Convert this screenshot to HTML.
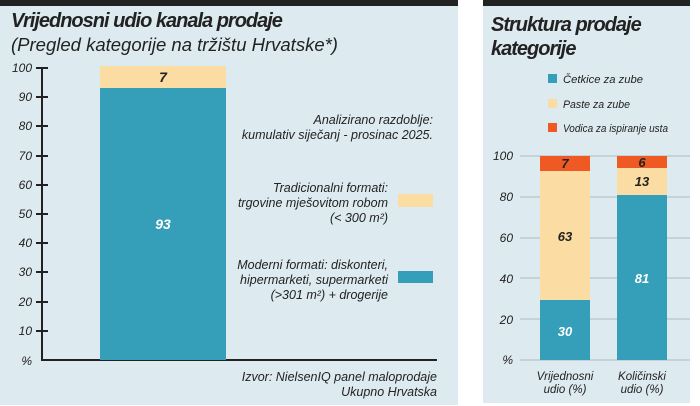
<!DOCTYPE html><html><head><style>
body{margin:0;width:700px;height:406px;background:#fff;position:relative;overflow:hidden;font-family:"Liberation Sans",sans-serif;font-style:italic;color:#222}
.a{position:absolute}
</style></head><body>
<div class="a" style="left:0;top:0;width:458px;height:405px;background:#ddeaef;border-top:6px solid #222;box-sizing:border-box"></div>
<div class="a" style="left:483px;top:0;width:207px;height:403px;background:#ddeaef;border-top:6px solid #222;box-sizing:border-box"></div>
<div class="a" style="left:11px;top:10px;font-size:20px;font-weight:bold;letter-spacing:-1px">Vrijednosni udio kanala prodaje</div>
<div class="a" style="left:11px;top:34px;font-size:18.5px;font-style:italic">(Pregled kategorije na tržištu Hrvatske*)</div>
<div class="a" style="left:491px;top:13px;font-size:20px;font-weight:bold;line-height:24px;letter-spacing:-1px">Struktura prodaje<br>kategorije</div>
<svg class="a" style="left:0;top:0" width="700" height="406" font-family="Liberation Sans, sans-serif" font-style="italic">
<g font-size="12" fill="#222" text-anchor="end">
<line x1="42" y1="68" x2="42" y2="361" stroke="#222" stroke-width="2"/>
<line x1="41" y1="360" x2="437" y2="360" stroke="#222" stroke-width="2"/>
<g stroke="#222" stroke-width="2">
<line x1="36" y1="68" x2="48" y2="68"/><line x1="36" y1="97" x2="48" y2="97"/><line x1="36" y1="126" x2="48" y2="126"/><line x1="36" y1="156" x2="48" y2="156"/><line x1="36" y1="185" x2="48" y2="185"/><line x1="36" y1="214" x2="48" y2="214"/><line x1="36" y1="243" x2="48" y2="243"/><line x1="36" y1="272" x2="48" y2="272"/><line x1="36" y1="302" x2="48" y2="302"/><line x1="36" y1="331" x2="48" y2="331"/></g>
<text x="32" y="72">100</text><text x="32" y="101">90</text><text x="32" y="130">80</text><text x="32" y="160">70</text><text x="32" y="189">60</text><text x="32" y="218">50</text><text x="32" y="247">40</text><text x="32" y="276">30</text><text x="32" y="306">20</text><text x="32" y="335">10</text><text x="32" y="365">%</text>
</g>
<rect x="100" y="66" width="126" height="22" fill="#fbdca2"/>
<rect x="100" y="88" width="126" height="272" fill="#359fba"/>
<text x="163" y="82" font-size="14" font-weight="bold" text-anchor="middle" fill="#222">7</text>
<text x="163" y="229" font-size="14" font-weight="bold" text-anchor="middle" fill="#fff">93</text>
<g font-size="12.5" text-anchor="end" fill="#222">
<text x="433" y="124">Analizirano razdoblje:</text><text x="433" y="139">kumulativ siječanj - prosinac 2025.</text>
<text x="388" y="192">Tradicionalni formati:</text><text x="388" y="207">trgovine mješovitom robom</text><text x="388" y="222">(&lt; 300 m²)</text>
<text x="388" y="269">Moderni formati: diskonteri,</text><text x="388" y="284">hipermarketi, supermarketi</text><text x="388" y="299">(&gt;301 m²) + drogerije</text>
<text x="437" y="381">Izvor: NielsenIQ panel maloprodaje</text><text x="437" y="396">Ukupno Hrvatska</text>
</g>
<rect x="398" y="194" width="35" height="13" fill="#fbdca2"/>
<rect x="398" y="271" width="35" height="12" fill="#359fba"/>
<rect x="548" y="74" width="9" height="9" fill="#359fba"/>
<rect x="548" y="99" width="9" height="9" fill="#fbdca2"/>
<rect x="548" y="123" width="9" height="9" fill="#ef5a24"/>
<g font-size="11" fill="#222"><text x="563" y="83" textLength="80" lengthAdjust="spacingAndGlyphs">Četkice za zube</text><text x="563" y="108" textLength="67" lengthAdjust="spacingAndGlyphs">Paste za zube</text><text x="563" y="132" textLength="105" lengthAdjust="spacingAndGlyphs">Vodica za ispiranje usta</text></g>
<g stroke="#b9c3c7" stroke-width="1.2"><line x1="520" y1="156" x2="690" y2="156"/><line x1="520" y1="197" x2="690" y2="197"/><line x1="520" y1="238" x2="690" y2="238"/><line x1="520" y1="278" x2="690" y2="278"/><line x1="520" y1="319" x2="690" y2="319"/><line x1="520" y1="360" x2="690" y2="360"/></g>
<g font-size="12" text-anchor="end" fill="#222"><text x="513" y="160">100</text><text x="513" y="201">80</text><text x="513" y="242">60</text><text x="513" y="283">40</text><text x="513" y="324">20</text><text x="513" y="364">%</text></g>
<rect x="540" y="156" width="50" height="15" fill="#ef5a24"/>
<rect x="540" y="171" width="50" height="129" fill="#fbdca2"/>
<rect x="540" y="300" width="50" height="60" fill="#359fba"/>
<rect x="617" y="156" width="50" height="12" fill="#ef5a24"/>
<rect x="617" y="168" width="50" height="27" fill="#fbdca2"/>
<rect x="617" y="195" width="50" height="165" fill="#359fba"/>
<g font-size="13" font-weight="bold" text-anchor="middle">
<text x="565" y="168" fill="#222">7</text><text x="565" y="241" fill="#222">63</text><text x="565" y="336" fill="#fff">30</text>
<text x="642" y="167" fill="#222">6</text><text x="642" y="186" fill="#222">13</text><text x="642" y="283" fill="#fff">81</text></g>
<g font-size="11.5" text-anchor="middle" fill="#222"><text x="565" y="380">Vrijednosni</text><text x="565" y="393">udio (%)</text><text x="642" y="380">Količinski</text><text x="642" y="393">udio (%)</text></g>
</svg>
</body></html>
